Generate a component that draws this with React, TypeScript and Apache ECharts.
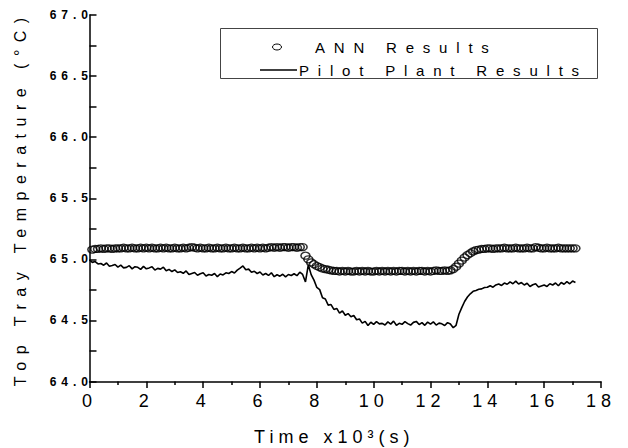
import { useEffect, useRef } from "react";
import * as echarts from "echarts";

// Sampling grid (x10^3 s)
const ANN_T0 = 0.1;
const PILOT_T0 = 0.0;
const DT = 0.1;

// ANN Results (°C), t = 0.1 … 17.1
const annTemp = [
  65.08, 65.085, 65.085, 65.09, 65.085, 65.09, 65.09, 65.085, 65.09, 65.09,
  65.09, 65.095, 65.09, 65.09, 65.095, 65.09, 65.09, 65.095, 65.09, 65.095,
  65.09, 65.095, 65.09, 65.09, 65.095, 65.09, 65.095, 65.09, 65.09, 65.095,
  65.09, 65.09, 65.095, 65.09, 65.095, 65.1, 65.095, 65.09, 65.095, 65.09,
  65.09, 65.095, 65.09, 65.09, 65.095, 65.09, 65.09, 65.095, 65.09, 65.09,
  65.095, 65.09, 65.09, 65.095, 65.09, 65.09, 65.095, 65.09, 65.095, 65.09,
  65.095, 65.09, 65.095, 65.1, 65.095, 65.1, 65.095, 65.1, 65.1, 65.095,
  65.1, 65.1, 65.095, 65.1, 65.1,
  65.03, 65.0, 64.975, 64.96, 64.945, 64.935, 64.925, 64.92, 64.915, 64.91,
  64.905, 64.905, 64.9, 64.905, 64.9, 64.905, 64.9, 64.9, 64.905, 64.9,
  64.905, 64.9, 64.905, 64.9, 64.9, 64.905, 64.9, 64.905, 64.9, 64.905,
  64.9, 64.905, 64.9, 64.905, 64.905, 64.9, 64.905, 64.9, 64.905, 64.9,
  64.905, 64.905, 64.9, 64.905, 64.9, 64.905, 64.91, 64.905, 64.905, 64.91,
  64.905, 64.91,
  64.92, 64.94, 64.965, 64.99, 65.015, 65.035, 65.05, 65.065, 65.075, 65.08, 65.085,
  65.085, 65.09, 65.09, 65.085, 65.09, 65.09, 65.09, 65.095, 65.09, 65.09,
  65.09, 65.095, 65.09, 65.09, 65.09, 65.095, 65.09, 65.09, 65.1, 65.095,
  65.09, 65.09, 65.095, 65.09, 65.09, 65.09, 65.095, 65.09, 65.09, 65.09,
  65.09, 65.09, 65.09,
];

// Pilot Plant Results (°C), t = 0.0 … 17.1
const pilotTemp = [
  64.995, 64.975, 64.982, 64.962, 64.966, 64.952, 64.97, 64.944, 64.95, 64.958,
  64.936, 64.952, 64.93, 64.934, 64.948, 64.922, 64.94, 64.935, 64.918, 64.942,
  64.922, 64.93, 64.94, 64.912, 64.926, 64.92, 64.936, 64.906, 64.918, 64.9,
  64.914, 64.892, 64.898, 64.886, 64.905, 64.876, 64.884, 64.892, 64.87, 64.882,
  64.89, 64.864, 64.876, 64.87, 64.884, 64.858, 64.88, 64.872, 64.89, 64.884,
  64.9, 64.888, 64.912, 64.928, 64.946, 64.915, 64.92, 64.894, 64.902, 64.884,
  64.896, 64.872, 64.884, 64.868, 64.89, 64.858, 64.874, 64.862, 64.878, 64.856,
  64.876, 64.868, 64.882, 64.866, 64.895, 64.876, 64.815, 64.955, 64.875, 64.83,
  64.77, 64.752, 64.685, 64.675, 64.625, 64.63, 64.59, 64.598, 64.56, 64.578,
  64.542, 64.556, 64.53, 64.54, 64.505, 64.512, 64.478, 64.492, 64.458, 64.485,
  64.468, 64.49, 64.472, 64.476, 64.462, 64.488, 64.47, 64.494, 64.46, 64.476,
  64.468, 64.49, 64.474, 64.462, 64.484, 64.492, 64.466, 64.482, 64.46, 64.486,
  64.47, 64.488, 64.462, 64.478, 64.472, 64.458, 64.482, 64.47, 64.44, 64.46,
  64.55, 64.605, 64.655, 64.692, 64.718, 64.738, 64.745, 64.755, 64.758, 64.77,
  64.772, 64.784, 64.772, 64.79, 64.798, 64.786, 64.806, 64.796, 64.815, 64.8,
  64.822, 64.798, 64.81, 64.79, 64.804, 64.778, 64.792, 64.8, 64.774, 64.782,
  64.79, 64.778, 64.8, 64.79, 64.806, 64.784, 64.81, 64.796, 64.818, 64.8,
  64.822, 64.81,
];

const legendLabels = ["ANN Results", "Pilot Plant Results"];
const X_TITLE = "Time x10\u00B3(s)";
const Y_TITLE = "Top Tray Temperature (\u00B0C)";
const X_MIN = 0, X_MAX = 18, X_INTERVAL = 2;
const Y_MIN = 64, Y_MAX = 67, Y_INTERVAL = 0.5;

const FONT = '"Liberation Sans", Arial, sans-serif';

export default function App() {
  const ref = useRef<HTMLDivElement>(null);

  useEffect(() => {
    const el = ref.current!;
    const chart = echarts.init(el, null, { renderer: "svg" });

    const annData = annTemp.map((v, i) => [+(ANN_T0 + i * DT).toFixed(2), v]);
    const pilotData = pilotTemp.map((v, i) => [+(PILOT_T0 + i * DT).toFixed(2), v]);

    chart.setOption({
      animation: false,
      backgroundColor: "#fff",
      textStyle: { fontFamily: FONT },
      grid: { left: 89.5, right: 27, top: 15, bottom: 66.5, containLabel: false, outerBoundsMode: "none" },
      xAxis: {
        type: "value",
        min: X_MIN,
        max: X_MAX,
        interval: X_INTERVAL,
        name: X_TITLE,
        nameLocation: "middle",
        nameGap: 46,
        nameTextStyle: { fontSize: 18, color: "#000", fontFamily: FONT, padding: [0, 22, 0, 0] },
        axisLine: { lineStyle: { color: "#000", width: 1.5 } },
        axisTick: { show: true, inside: false, length: 6.5, lineStyle: { color: "#000", width: 1.5 } },
        minorTick: { show: true, splitNumber: 2, length: 3.5, lineStyle: { color: "#000", width: 1.5 } },
        splitLine: { show: false },
        axisLabel: { fontSize: 18, color: "#000", margin: 10, fontFamily: FONT },
      },
      yAxis: {
        type: "value",
        min: Y_MIN,
        max: Y_MAX,
        interval: Y_INTERVAL,
        name: Y_TITLE,
        nameLocation: "middle",
        nameRotate: 90,
        nameGap: 61,
        nameTextStyle: { fontSize: 16, color: "#000", fontFamily: FONT },
        axisLine: { lineStyle: { color: "#000", width: 1.5 } },
        axisTick: { show: true, inside: true, length: 7, lineStyle: { color: "#000", width: 1.5 } },
        minorTick: { show: true, splitNumber: 2, length: 7, lineStyle: { color: "#000", width: 1.5 } },
        splitLine: { show: false },
        axisLabel: {
          fontSize: 12,
          fontWeight: "bold",
          color: "#000",
          margin: -3.5,
          fontFamily: FONT,
          formatter: (v: number) => v.toFixed(1),
        },
      },
      graphic: [
        {
          type: "rect",
          shape: { x: 220.5, y: 28.5, width: 377, height: 50 },
          style: { fill: "#fff", stroke: "#444", lineWidth: 1 },
          z: 10,
        },
        {
          type: "ellipse",
          shape: { cx: 277, cy: 47, rx: 4.5, ry: 3 },
          style: { fill: "none", stroke: "#000", lineWidth: 1 },
          z: 11,
        },
        {
          type: "text",
          x: 315,
          y: 47,
          style: { text: legendLabels[0], fontSize: 15, fill: "#000", fontFamily: FONT, verticalAlign: "middle", align: "left" },
          z: 11,
        },
        {
          type: "line",
          shape: { x1: 260, y1: 70, x2: 297, y2: 70 },
          style: { stroke: "#000", lineWidth: 1.5 },
          z: 11,
        },
        {
          type: "text",
          x: 299,
          y: 70,
          style: { text: legendLabels[1], fontSize: 15, fill: "#000", fontFamily: FONT, verticalAlign: "middle", align: "left" },
          z: 11,
        },
      ],
      series: [
        {
          name: legendLabels[1],
          type: "line",
          data: pilotData,
          showSymbol: false,
          symbol: "none",
          lineStyle: { color: "#000", width: 1.6 },
          z: 2,
        },
        {
          name: legendLabels[0],
          type: "scatter",
          data: annData,
          symbol: "circle",
          symbolSize: [9, 7],
          itemStyle: { color: "rgba(0,0,0,0)", borderColor: "#000", borderWidth: 1.4 },
          z: 3,
        },
      ],
    });

    const applySpacing = () => {
      el.querySelectorAll("text").forEach((t) => {
        const s = (t.textContent || "").trim();
        let ls = 0;
        if (s === Y_TITLE) ls = 7.5;
        else if (s === X_TITLE) ls = 5;
        else if (legendLabels.includes(s)) ls = 8.8;
        else if (/^\d+\.\d$/.test(s)) ls = 5;
        else if (/^\d+$/.test(s)) ls = 5;
        if (ls) t.setAttribute("letter-spacing", ls + "px");
      });
    };
    applySpacing();
    chart.on("finished", applySpacing);

    return () => {
      chart.dispose();
    };
  }, []);

  return (
    <div
      ref={ref}
      style={{ position: "fixed", left: 0, top: 0, width: 628, height: 448, background: "#fff" }}
    />
  );
}
